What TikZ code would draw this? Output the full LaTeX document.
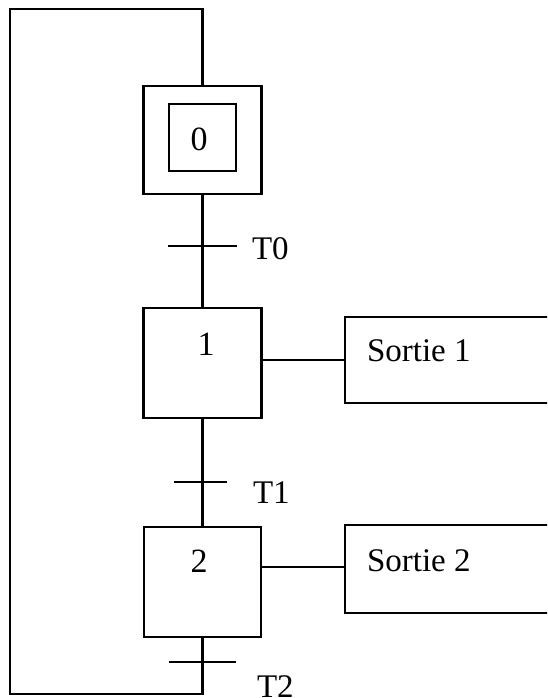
\documentclass[tikz,border=0pt]{standalone}
\usepackage{fontspec}
\setmainfont{Liberation Serif}
\begin{document}
\begin{tikzpicture}[x=1pt,y=-1pt,
  line width=2.5pt,
  every node/.style={inner sep=0pt,outer sep=0pt},
  box/.style={draw,rectangle,line width=2.5pt},
  txt/.style={font=\fontsize{33}{40}\selectfont,anchor=base west},
  num/.style={font=\fontsize{34}{40}\selectfont,anchor=base},
  bar/.style={line width=2.5pt}]
\useasboundingbox (0,0) rectangle (547,698);
\clip (0,0) rectangle (547,698);
% steps
\node[box,minimum width=118pt,minimum height=108pt] (s0) at (202.5,140) {};
\node[box,minimum width=67pt,minimum height=67pt] (s0in) at (202.5,137.5) {};
\node[num] (n0) at (199,150) {0};
\node[box,minimum width=118pt,minimum height=110pt] (s1) at (202.5,363) {};
\node[num] (n1) at (206,355) {1};
\node[box,minimum width=117pt,minimum height=110pt] (s2) at (202.5,582) {};
\node[num] (n2) at (199,572) {2};
% actions
\node[box,minimum width=215pt,minimum height=86pt] (a1) at (452.5,360) {};
\node[txt] (a1t) at (367,361) {Sortie 1};
\node[box,minimum width=215pt,minimum height=88pt] (a2) at (452.5,569) {};
\node[txt] (a2t) at (367,571) {Sortie 2};
% transitions
\coordinate (t0l) at (168,246); \coordinate (t0r) at (237,246);
\coordinate (t1l) at (174,482); \coordinate (t1r) at (227,482);
\coordinate (t2l) at (169,662); \coordinate (t2r) at (236,662);
\draw[bar] (t0l) -- (t0r);
\draw[bar] (t1l) -- (t1r);
\draw[bar] (t2l) -- (t2r);
\node[txt] (t0) at (252,259) {T0};
\node[txt] (t1) at (253,503) {T1};
\node[txt] (t2) at (257,697) {T2};
% links
\draw (s0.south) -- (s1.north);
\draw (s1.south) -- (s2.north);
\draw (s1.east |- a1.west) -- (a1.west);
\draw (s2.east |- 0,567) -- (a2.west |- 0,567);
\coordinate (c1) at (202.5,694);
\coordinate (c2) at (10,694);
\coordinate (c3) at (10,9);
\coordinate (c4) at (202.5,9);
\draw (s2.south) -- (c1) -- (c2) -- (c3) -- (c4) -- (s0.north);
\end{tikzpicture}
\end{document}
